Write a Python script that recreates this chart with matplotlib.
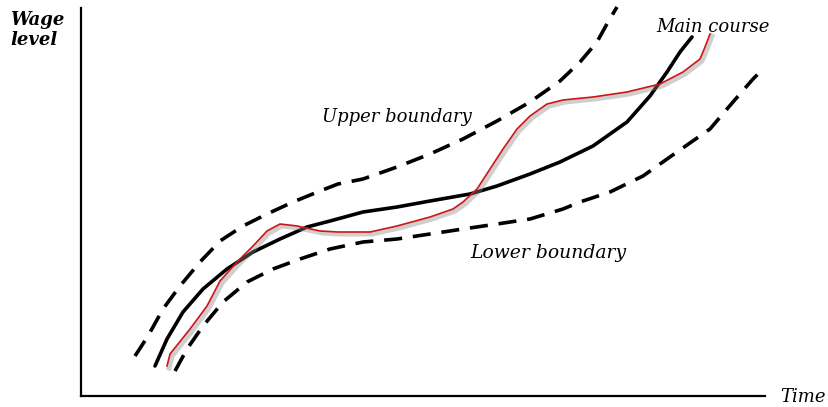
import matplotlib
matplotlib.use("Agg")
import matplotlib.pyplot as plt
import matplotlib.patheffects as pe

W, H = 829, 407

# Data (time, wage level) in arbitrary units
upper_t = [54, 67, 82, 99, 119, 139, 162, 186, 212, 239, 257, 282, 316, 349,
           382, 416, 449, 479, 499, 516, 527, 536]
upper_w = [40, 60, 87, 110, 134, 155, 170, 182, 194, 205, 212, 217, 229, 242,
           257, 275, 294, 315, 334, 354, 374, 389]

main_t = [74, 86, 102, 122, 146, 172, 199, 226, 249, 282, 316, 349, 389, 416,
          449, 479, 512, 546, 569, 586, 599, 611]
main_w = [30, 57, 84, 107, 127, 144, 157, 169, 175, 184, 189, 195, 202, 210,
          222, 234, 250, 274, 300, 324, 344, 359]

lower_t = [94, 106, 122, 142, 166, 192, 219, 249, 282, 316, 349, 382, 416, 449,
           482, 499, 529, 562, 596, 629, 652, 672, 682]
lower_w = [25, 47, 70, 94, 114, 127, 137, 147, 154, 157, 162, 167, 172, 177,
           187, 194, 204, 220, 244, 267, 294, 317, 327]

red_t = [86, 89, 109, 126, 139, 156, 172, 186, 199, 216, 239, 257, 289, 316,
         349, 372, 382, 396, 409, 422, 436, 449, 466, 482, 512, 546, 579, 602,
         619, 624, 629]
red_w = [30, 42, 67, 90, 115, 134, 150, 165, 172, 170, 165, 164, 164, 170,
         179, 187, 194, 207, 227, 247, 267, 280, 292, 296, 299, 304, 312, 324,
         337, 349, 362]

fig = plt.figure(figsize=(W / 100, H / 100), dpi=100)
ax = fig.add_axes([81 / W, (H - 396) / H, (765 - 81) / W, (396 - 8) / H])
ax.set_xlim(0, 684)
ax.set_ylim(0, 388)
for s in ("top", "right"):
    ax.spines[s].set_visible(False)
for s in ("left", "bottom"):
    ax.spines[s].set_linewidth(1.6)
ax.set_xticks([])
ax.set_yticks([])
ax.patch.set_alpha(0)

ax.plot(upper_t, upper_w, color="black", lw=2.6, dashes=(5, 3),
        solid_joinstyle="round", clip_on=False)
ax.plot(lower_t, lower_w, color="black", lw=2.6, dashes=(5, 3),
        solid_joinstyle="round", clip_on=False)
ax.plot(main_t, main_w, color="black", lw=2.6, solid_joinstyle="round",
        solid_capstyle="round", clip_on=False)
ax.plot(red_t, red_w, color="#d41414", lw=1.2, solid_joinstyle="round",
        clip_on=False,
        path_effects=[pe.SimpleLineShadow(offset=(1.5, -1.5), shadow_color="#888888",
                                          alpha=0.4, linewidth=3.5),
                      pe.Normal()])

font = dict(family="DejaVu Serif", style="italic", color="black")


def ptext(x, y, s, **kw):
    fig.text(x / W, 1 - y / H, s, va="baseline", ha="left", **{**font, **kw})


ptext(10, 25, "Wage", fontsize=13, fontweight="bold")
ptext(10, 45, "level", fontsize=13, fontweight="bold")
ptext(656, 32, "Main course", fontsize=13, fontweight="medium")
ptext(322, 122, "Upper boundary", fontsize=13)
ptext(470, 258, "Lower boundary", fontsize=13.5)
ptext(780, 402, "Time", fontsize=13)

fig.savefig("out.png", dpi=100)
